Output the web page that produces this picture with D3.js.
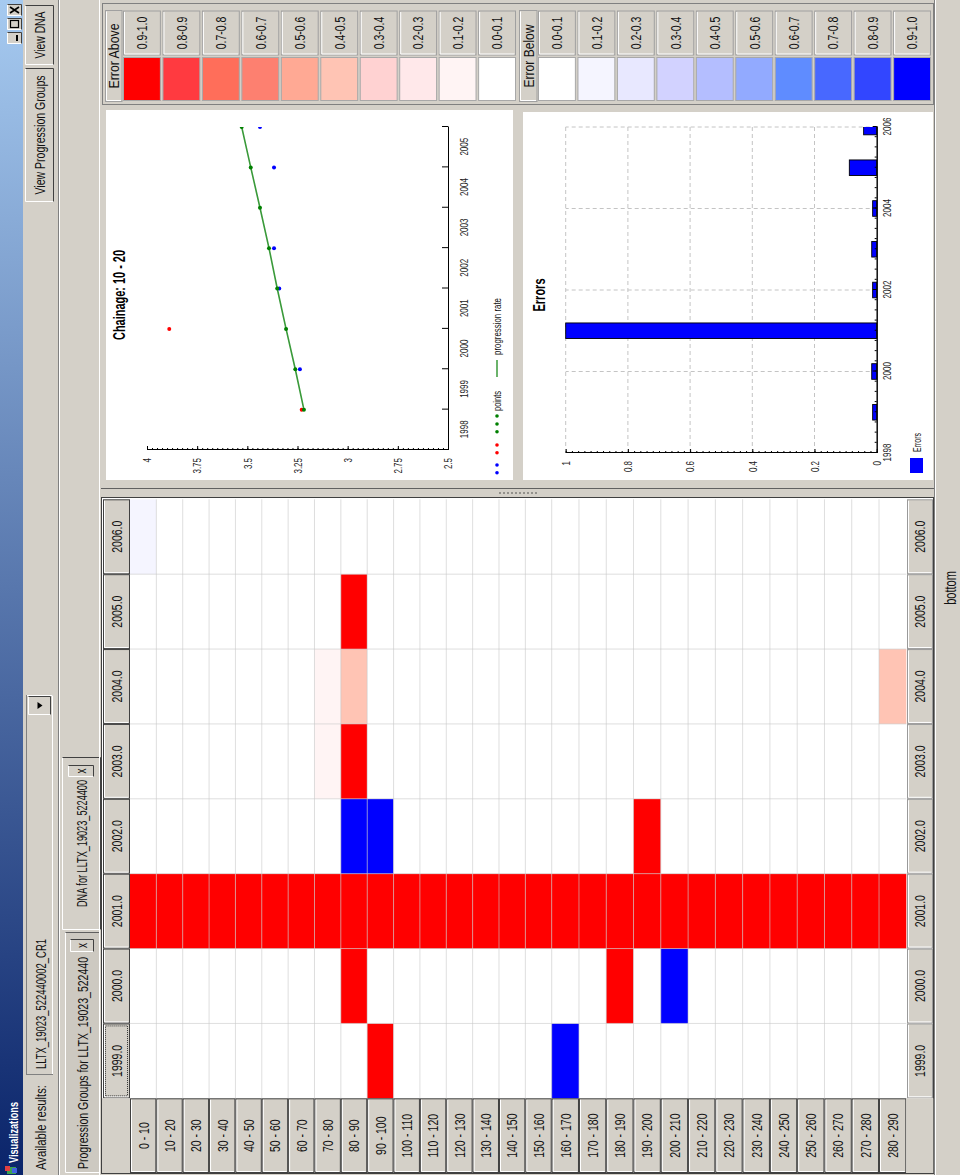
<!DOCTYPE html>
<html>
<head>
<meta charset="utf-8">
<script src="https://cdn.jsdelivr.net/npm/d3@7"></script>
<style>
  html, body { margin: 0; padding: 0; background: #d4d0c8; }
  svg { display: block; font-family: "Liberation Sans", Arial, sans-serif; }
</style>
</head>
<body>
<svg id="screen" width="960" height="1175"></svg>
<script>
// the screenshot is a Swing window turned a quarter turn, so everything is
// drawn in the window's own frame and the frame is rotated at the end
const FRAME_W = 1175;
const FRAME_H = 960;
const STRETCH = 1.45;   // the capture is stretched vertically, text too
const GRAY = '#d4d0c8';
const FONT = 'Liberation Sans, Arial, sans-serif';

// ---- DNA grid ----
const years = [1999, 2000, 2001, 2002, 2003, 2004, 2005, 2006];
const chainages = ['0 - 10', '10 - 20', '20 - 30', '30 - 40', '40 - 50', '50 - 60', '60 - 70',
  '70 - 80', '80 - 90', '90 - 100', '100 - 110', '110 - 120', '120 - 130', '130 - 140',
  '140 - 150', '150 - 160', '160 - 170', '170 - 180', '180 - 190', '190 - 200', '200 - 210',
  '210 - 220', '220 - 230', '230 - 240', '240 - 250', '250 - 260', '260 - 270', '270 - 280',
  '280 - 290'];
// one row per chainage, columns 1999..2006; >0 error above, <0 error below
const errorGrid = [
  [0, 0, 1, 0, 0, 0, 0, -0.15],
  [0, 0, 1, 0, 0, 0, 0, 0],
  [0, 0, 1, 0, 0, 0, 0, 0],
  [0, 0, 1, 0, 0, 0, 0, 0],
  [0, 0, 1, 0, 0, 0, 0, 0],
  [0, 0, 1, 0, 0, 0, 0, 0],
  [0, 0, 1, 0, 0, 0, 0, 0],
  [0, 0, 1, 0, 0.15, 0.15, 0, 0],
  [0, 1, 1, -1, 1, 0.45, 1, 0],
  [1, 0, 1, -1, 0, 0, 0, 0],
  [0, 0, 1, 0, 0, 0, 0, 0],
  [0, 0, 1, 0, 0, 0, 0, 0],
  [0, 0, 1, 0, 0, 0, 0, 0],
  [0, 0, 1, 0, 0, 0, 0, 0],
  [0, 0, 1, 0, 0, 0, 0, 0],
  [0, 0, 1, 0, 0, 0, 0, 0],
  [-1, 0, 1, 0, 0, 0, 0, 0],
  [0, 0, 1, 0, 0, 0, 0, 0],
  [0, 1, 1, 0, 0, 0, 0, 0],
  [0, 0, 1, 1, 0, 0, 0, 0],
  [0, -1, 1, 0, 0, 0, 0, 0],
  [0, 0, 1, 0, 0, 0, 0, 0],
  [0, 0, 1, 0, 0, 0, 0, 0],
  [0, 0, 1, 0, 0, 0, 0, 0],
  [0, 0, 1, 0, 0, 0, 0, 0],
  [0, 0, 1, 0, 0, 0, 0, 0],
  [0, 0, 1, 0, 0, 0, 0, 0],
  [0, 0, 1, 0, 0, 0, 0, 0],
  [0, 0, 1, 0, 0, 0.45, 0, 0]
];

// ---- colour key ----
const aboveBins = ['0.9-1.0', '0.8-0.9', '0.7-0.8', '0.6-0.7', '0.5-0.6', '0.4-0.5', '0.3-0.4', '0.2-0.3', '0.1-0.2', '0.0-0.1'];
const aboveColors = ['#ff0000', '#ff3a40', '#ff6e5a', '#fd8070', '#ffa994', '#ffc4b4', '#ffd2d2', '#ffe8ea', '#fff4f4', '#ffffff'];
const belowBins = ['0.0-0.1', '0.1-0.2', '0.2-0.3', '0.3-0.4', '0.4-0.5', '0.5-0.6', '0.6-0.7', '0.7-0.8', '0.8-0.9', '0.9-1.0'];
const belowColors = ['#ffffff', '#f5f5ff', '#e8e8ff', '#d2d2ff', '#b4beff', '#92aaff', '#5f8cff', '#4868ff', '#3246ff', '#0000ff'];

// ---- progression chart ----
const chainageTitle = 'Chainage: 10 - 20';
const progressionRate = [3.218, 3.261, 3.307, 3.351, 3.392, 3.437, 3.483, 3.528];
const aboveYears = [1999, 2001];
const aboveValues = [3.229, 3.889];
const belowYears = [2000, 2002, 2003, 2005, 2006];
const belowValues = [3.238, 3.341, 3.367, 3.367, 3.437];
const rateTicks = [2.5, 2.75, 3, 3.25, 3.5, 3.75, 4];
const lineYearLabels = [1998, 1999, 2000, 2001, 2002, 2003, 2004, 2005];

// ---- errors chart ----
const errorRates = [0.013, 0.016, 1.0, 0.013, 0.016, 0.013, 0.088, 0.042];
const errorTicks = [0, 0.2, 0.4, 0.6, 0.8, 1];
const barYearTicks = [1998, 2000, 2002, 2004, 2006];

const svg = d3.select('#screen');
const defs = svg.append('defs');
const frame = svg.append('g')
  .attr('transform', `translate(0,${FRAME_W}) rotate(-90)`)
  .attr('font-family', FONT);

function label(parent, x, y, str, o = {}) {
  const t = parent.append('text')
    .attr('transform', `translate(${x},${y}) scale(1,${STRETCH})`)
    .attr('font-size', o.size || 10.5)
    .attr('font-weight', o.weight || 'normal')
    .attr('text-anchor', o.anchor || 'start')
    .attr('fill', o.fill || '#111')
    .text(str);
  if (o.mid) t.attr('dy', '0.35em');
  if (o.len) t.attr('textLength', o.len).attr('lengthAdjust', 'spacingAndGlyphs');
  return t;
}

function stretch(sel) {
  sel.each(function () {
    const t = d3.select(this);
    const x = +t.attr('x') || 0;
    const y = +t.attr('y') || 0;
    t.attr('x', null).attr('y', null)
      .attr('transform', `translate(${x},${y}) scale(1,${STRETCH})`);
  });
}

function bevel(parent, x, y, w, h, fill = GRAY, dark = '#404040') {
  const g = parent.append('g');
  g.append('rect').attr('x', x).attr('y', y).attr('width', w).attr('height', h).attr('fill', fill);
  g.append('path').attr('d', `M${x + 0.5},${y + h - 0.5}V${y + 0.5}H${x + w - 0.5}`)
    .attr('fill', 'none').attr('stroke', '#fff');
  g.append('path').attr('d', `M${x + 0.5},${y + h - 0.5}H${x + w - 0.5}V${y + 0.5}`)
    .attr('fill', 'none').attr('stroke', dark);
  return g;
}

function headerCell(parent, x, y, w, h, edge) {
  parent.append('rect').attr('x', x + 0.5).attr('y', y + 0.5)
    .attr('width', w - 1).attr('height', h - 1)
    .attr('fill', GRAY).attr('stroke', edge);
  parent.append('path').attr('d', `M${x + 1.5},${y + h - 1.5}V${y + 1.5}H${x + w - 1.5}`)
    .attr('fill', 'none').attr('stroke', '#fff');
}

function styleAxis(g, size) {
  g.attr('font-family', FONT);
  g.select('.domain').attr('stroke', '#000');
  g.selectAll('.tick line').attr('stroke', '#000');
  g.selectAll('text').attr('font-size', size).attr('fill', '#222');
  stretch(g.selectAll('text'));
}

frame.append('rect').attr('width', FRAME_W).attr('height', FRAME_H).attr('fill', GRAY);

// ---------- title bar ----------
const grad = defs.append('linearGradient').attr('id', 'titleGrad')
  .attr('x1', 0).attr('x2', 1).attr('y1', 0).attr('y2', 0);
grad.append('stop').attr('offset', 0).attr('stop-color', '#0a246a');
grad.append('stop').attr('offset', 1).attr('stop-color', '#a6caf0');
frame.append('rect').attr('width', FRAME_W).attr('height', 23).attr('fill', 'url(#titleGrad)');
const titleBar = frame.append('g');
titleBar.append('rect').attr('x', 1).attr('y', 7).attr('width', 7).attr('height', 9).attr('fill', '#3aa050');
titleBar.append('rect').attr('x', 4).attr('y', 5).attr('width', 5).attr('height', 5).attr('fill', '#e04040');
titleBar.append('rect').attr('x', 2).attr('y', 12).attr('width', 5).attr('height', 5).attr('fill', '#4060e0');
label(titleBar, 12, 17.5, 'Visualizations', { size: 9, weight: 'bold', fill: '#fff', len: 61 });

[[1131, 'min'], [1145, 'max'], [1159, 'close']].forEach(([x, kind]) => {
  bevel(titleBar, x, 7, 12, 15);
  if (kind === 'min') titleBar.append('rect').attr('x', x + 3).attr('y', 16).attr('width', 6).attr('height', 2).attr('fill', '#000');
  if (kind === 'max') titleBar.append('rect').attr('x', x + 2.5).attr('y', 10.5).attr('width', 7).attr('height', 8)
    .attr('fill', 'none').attr('stroke', '#000').attr('stroke-width', 1.2);
  if (kind === 'close') titleBar.append('path').attr('d', `M${x + 3},${10}L${x + 9},${19}M${x + 9},${10}L${x + 3},${19}`)
    .attr('stroke', '#000').attr('stroke-width', 1.6);
});

// ---------- tool row ----------
const tools = frame.append('g');
label(tools, 5, 46, 'Available results:', { len: 85 });
tools.append('rect').attr('x', 100.5).attr('y', 26.5).attr('width', 379).attr('height', 26)
  .attr('fill', GRAY).attr('stroke', '#808080');
tools.append('path').attr('d', 'M101,52.5H479.5V27').attr('fill', 'none').attr('stroke', '#fff');
label(tools, 106, 46, 'LLTX_19023_522440002_CR1', { len: 130 });
bevel(tools, 460, 28, 19, 23);
tools.append('path').attr('d', 'M466,37.5h7l-3.5,5z').attr('fill', '#000');

bevel(tools, 973, 25, 134, 29);
label(tools, 1040, 39.5, 'View Progression Groups', { anchor: 'middle', mid: true, len: 119 });
bevel(tools, 1110, 25, 60, 29);
label(tools, 1140, 39.5, 'View DNA', { anchor: 'middle', mid: true, len: 47 });

tools.append('line').attr('x1', 0).attr('x2', FRAME_W).attr('y1', 58.5).attr('y2', 58.5).attr('stroke', '#808080');
tools.append('line').attr('x1', 0).attr('x2', FRAME_W).attr('y1', 59.5).attr('y2', 59.5).attr('stroke', '#fff');

// ---------- tabs ----------
const tabs = frame.append('g');
bevel(tabs, 2, 65, 241, 35, '#cdc9c1', '#606060');
label(tabs, 6, 88, 'Progression Groups for LLTX_19023_522440', { len: 212 });
bevel(tabs, 223, 70, 13, 24, GRAY, '#404040');
label(tabs, 229.5, 82, 'x', { anchor: 'middle', mid: true, size: 10 });

bevel(tabs, 245, 62, 173, 39, GRAY, '#404040');
label(tabs, 268, 87, 'DNA for LLTX_19023_5224400', { len: 127 });
bevel(tabs, 398, 68, 12, 26, GRAY, '#404040');
label(tabs, 404, 81, 'x', { anchor: 'middle', mid: true, size: 10 });

frame.append('line').attr('x1', 0).attr('x2', FRAME_W).attr('y1', 99.5).attr('y2', 99.5).attr('stroke', '#fff');
frame.append('line').attr('x1', 0).attr('x2', FRAME_W).attr('y1', 934.5).attr('y2', 934.5).attr('stroke', '#808080');
frame.append('line').attr('x1', 0).attr('x2', FRAME_W).attr('y1', 935.5).attr('y2', 935.5).attr('stroke', '#fff');

// ---------- DNA grid ----------
const hm = frame.append('g');
hm.append('rect').attr('x', 1.5).attr('y', 101.5).attr('width', 676).attr('height', 832)
  .attr('fill', '#fff').attr('stroke', '#404040');

const colX = d3.scaleBand().domain(years).range([76.7, 675.7]);
// row edges; the capture is not evenly scaled, hence the middle stop
const rowY = d3.scaleLinear().domain([0, 16, chainages.length]).range([130, 551.7, 906.3]);
const aboveScale = d3.scaleQuantize().domain([0, 1]).range(aboveColors.slice().reverse());
const belowScale = d3.scaleQuantize().domain([0, 1]).range(belowColors);
const cellColor = v => v > 0 ? aboveScale(v) : v < 0 ? belowScale(-v) : '#fff';

const cells = chainages.flatMap((c, i) => years.map((yr, j) => ({ row: i, year: yr, v: errorGrid[i][j] })));
hm.selectAll('rect.cell')
  .data(cells)
  .join('rect')
  .attr('class', 'cell')
  .attr('x', d => colX(d.year))
  .attr('y', d => rowY(d.row))
  .attr('width', colX.bandwidth())
  .attr('height', d => rowY(d.row + 1) - rowY(d.row))
  .attr('fill', d => cellColor(d.v));

hm.selectAll('line.hgrid')
  .data(d3.range(1, chainages.length))
  .join('line')
  .attr('class', 'hgrid')
  .attr('x1', colX.range()[0]).attr('x2', colX.range()[1])
  .attr('y1', d => rowY(d)).attr('y2', d => rowY(d))
  .attr('stroke', 'rgba(200,200,200,0.6)');
hm.selectAll('line.vgrid')
  .data(years.slice(1))
  .join('line')
  .attr('class', 'vgrid')
  .attr('x1', d => colX(d)).attr('x2', d => colX(d))
  .attr('y1', rowY(0)).attr('y2', rowY(chainages.length))
  .attr('stroke', 'rgba(200,200,200,0.6)');

const yearLabel = d3.format('.1f');
years.forEach(yr => {
  headerCell(hm, colX(yr), 103, colX.bandwidth(), 27, '#404040');
  label(hm, colX(yr) + colX.bandwidth() / 2, 116.5, yearLabel(yr), { anchor: 'middle', mid: true });
  headerCell(hm, colX(yr), 907, colX.bandwidth(), 26, '#9a9a9a');
  label(hm, colX(yr) + colX.bandwidth() / 2, 920, yearLabel(yr), { anchor: 'middle', mid: true });
});
hm.append('rect').attr('x', colX(years[0]) + 2.5).attr('y', 105.5)
  .attr('width', colX.bandwidth() - 5).attr('height', 22)
  .attr('fill', 'none').attr('stroke', '#333').attr('stroke-dasharray', '1,1');
chainages.forEach((c, i) => {
  headerCell(hm, 2, rowY(i), 74.7, rowY(i + 1) - rowY(i), '#404040');
  label(hm, 39.3, (rowY(i) + rowY(i + 1)) / 2, c, { anchor: 'middle', mid: true });
});
hm.append('rect').attr('x', 2).attr('y', 102).attr('width', 74.7).attr('height', 28).attr('fill', GRAY);
hm.append('rect').attr('x', 2).attr('y', 906.3).attr('width', 74.7).attr('height', 27).attr('fill', GRAY);

// split pane divider
frame.append('line').attr('x1', 686.5).attr('x2', 686.5).attr('y1', 101).attr('y2', 934).attr('stroke', '#606060');
frame.selectAll('circle.grip')
  .data(d3.range(500, 538, 4))
  .join('circle')
  .attr('class', 'grip')
  .attr('cx', 682).attr('cy', d => d).attr('r', 0.8).attr('fill', '#404040');

// ---------- colour key ----------
const key = frame.append('g');
key.append('rect').attr('x', 1070.5).attr('y', 102.5).attr('width', 101).attr('height', 831)
  .attr('fill', GRAY).attr('stroke', '#808080');
headerCell(key, 1073, 105, 92, 17.5, '#a0a0a0');
label(key, 1119, 113.8, 'Error Above', { anchor: 'middle', mid: true, len: 65 });
headerCell(key, 1073, 519, 92, 18.5, '#a0a0a0');
label(key, 1119, 528.3, 'Error Below', { anchor: 'middle', mid: true, len: 63 });

function keyRows(bins, colors, y0, y1) {
  const band = d3.scaleBand().domain(bins).range([y0, y1]).paddingInner(0.04);
  bins.forEach((b, i) => {
    headerCell(key, 1119.5, band(b), 45, band.bandwidth(), '#a0a0a0');
    label(key, 1142, band(b) + band.bandwidth() / 2, b, { anchor: 'middle', mid: true });
    key.append('rect').attr('x', 1074.5).attr('y', band(b) + 0.5)
      .attr('width', 43).attr('height', band.bandwidth() - 1)
      .attr('fill', colors[i]).attr('stroke', '#a8a8a8');
  });
}
keyRows(aboveBins, aboveColors, 123, 516);
keyRows(belowBins, belowColors, 538, 931);

// ---------- progression chart ----------
const lc = frame.append('g');
lc.append('rect').attr('x', 695).attr('y', 106).attr('width', 370).attr('height', 407).attr('fill', '#fff');
label(lc, 880, 124.5, chainageTitle, { anchor: 'middle', weight: 'bold', size: 11, fill: '#000', len: 90 });

const xL = d3.scaleLinear().domain([1998, 2006]).range([725, 1048]);
const yL = d3.scaleLinear().domain([2.5, 4]).range([448, 147]);

defs.append('clipPath').attr('id', 'lineClip')
  .append('rect').attr('x', 725).attr('y', 140).attr('width', 323).attr('height', 308);

const xTickAxis = lc.append('g').attr('transform', 'translate(0,448)')
  .call(d3.axisBottom(xL).tickValues(years).tickSizeInner(-6).tickSizeOuter(0).tickFormat(''));
styleAxis(xTickAxis, 8);
const xLabelAxis = lc.append('g').attr('transform', 'translate(0,448)')
  .call(d3.axisBottom(xL).tickValues(lineYearLabels.map(y => y + 0.5)).tickSize(0).tickPadding(12)
    .tickFormat(d => d3.format('d')(d - 0.5)));
xLabelAxis.select('.domain').remove();
styleAxis(xLabelAxis, 8);

const yMinor = lc.append('g').attr('transform', 'translate(725,0)')
  .call(d3.axisLeft(yL).tickValues(d3.range(2.5, 4.001, 0.025)).tickSizeInner(-2).tickSizeOuter(0).tickFormat(''));
styleAxis(yMinor, 8);
const yMajor = lc.append('g').attr('transform', 'translate(725,0)')
  .call(d3.axisLeft(yL).tickValues(rateTicks).tickSizeInner(-4).tickSizeOuter(0).tickPadding(8).tickFormat(d => d));
styleAxis(yMajor, 8);

const plotL = lc.append('g').attr('clip-path', 'url(#lineClip)');
plotL.append('path')
  .datum(progressionRate)
  .attr('d', d3.line().x((d, i) => xL(years[i])).y(d => yL(d)))
  .attr('fill', 'none').attr('stroke', '#3a9a3a').attr('stroke-width', 1.6);
plotL.selectAll('circle.below')
  .data(belowYears)
  .join('circle')
  .attr('class', 'below')
  .attr('cx', d => xL(d)).attr('cy', (d, i) => yL(belowValues[i])).attr('r', 2).attr('fill', '#0000ff');
plotL.selectAll('circle.above')
  .data(aboveYears)
  .join('circle')
  .attr('class', 'above')
  .attr('cx', d => xL(d)).attr('cy', (d, i) => yL(aboveValues[i])).attr('r', 2).attr('fill', '#ff0000');
plotL.selectAll('circle.rate')
  .data(progressionRate)
  .join('circle')
  .attr('class', 'rate')
  .attr('cx', (d, i) => xL(years[i])).attr('cy', d => yL(d)).attr('r', 2).attr('fill', '#008000');

const lcLegend = lc.append('g');
[['#0000ff', 702.3], ['#0000ff', 710], ['#ff0000', 722.3], ['#ff0000', 730],
 ['#008000', 743.3], ['#008000', 751], ['#008000', 759]].forEach(([c, x]) => {
  lcLegend.append('circle').attr('cx', x).attr('cy', 497).attr('r', 1.8).attr('fill', c);
});
label(lcLegend, 764, 497, 'points', { mid: true, size: 7.5, len: 20 });
lcLegend.append('line').attr('x1', 798).attr('x2', 815).attr('y1', 497).attr('y2', 497)
  .attr('stroke', '#3a9a3a').attr('stroke-width', 1.5);
label(lcLegend, 820, 497, 'progression rate', { mid: true, size: 7.5, len: 57 });

// ---------- errors chart ----------
const bc = frame.append('g');
bc.append('rect').attr('x', 695).attr('y', 523).attr('width', 368).attr('height', 410).attr('fill', '#fff');
label(bc, 880, 545, 'Errors', { anchor: 'middle', weight: 'bold', size: 11, fill: '#000', len: 33 });

const xB = d3.scaleLinear().domain([1998, 2006]).range([722, 1048]);
const yB = d3.scaleLinear().domain([0, 1]).range([876.7, 565.7]);

defs.append('clipPath').attr('id', 'barClip')
  .append('rect').attr('x', 722).attr('y', 560).attr('width', 326).attr('height', 317);

bc.selectAll('line.hdash')
  .data(errorTicks.slice(1))
  .join('line')
  .attr('class', 'hdash')
  .attr('x1', xB(1998)).attr('x2', xB(2006))
  .attr('y1', d => yB(d)).attr('y2', d => yB(d))
  .attr('stroke', '#c4c4c4').attr('stroke-dasharray', '4,3');
bc.selectAll('line.vdash')
  .data(barYearTicks.slice(1))
  .join('line')
  .attr('class', 'vdash')
  .attr('x1', d => xB(d)).attr('x2', d => xB(d))
  .attr('y1', yB(0)).attr('y2', yB(1))
  .attr('stroke', '#c4c4c4').attr('stroke-dasharray', '4,3');

bc.append('g').attr('clip-path', 'url(#barClip)')
  .selectAll('rect.bar')
  .data(errorRates)
  .join('rect')
  .attr('class', 'bar')
  .attr('x', (d, i) => xB(years[i]) - 7.8)
  .attr('y', d => yB(d))
  .attr('width', 15.6)
  .attr('height', d => yB(0) - yB(d))
  .attr('fill', '#0000ff')
  .attr('stroke', '#000').attr('stroke-width', 0.9);

const bxMinor = bc.append('g').attr('transform', `translate(0,${yB(0)})`)
  .call(d3.axisBottom(xB).tickValues(d3.range(1998, 2006.001, 0.25)).tickSizeInner(-2).tickSizeOuter(0).tickFormat(''));
styleAxis(bxMinor, 8);
const bxMajor = bc.append('g').attr('transform', `translate(0,${yB(0)})`)
  .call(d3.axisBottom(xB).tickValues(barYearTicks).tickSizeInner(-4).tickSizeOuter(0).tickPadding(6).tickFormat(d3.format('d')));
styleAxis(bxMajor, 8);
const byMinor = bc.append('g').attr('transform', `translate(${xB(1998)},0)`)
  .call(d3.axisLeft(yB).tickValues(d3.range(0, 1.001, 0.02)).tickSizeInner(-2).tickSizeOuter(0).tickFormat(''));
styleAxis(byMinor, 8);
const byMajor = bc.append('g').attr('transform', `translate(${xB(1998)},0)`)
  .call(d3.axisLeft(yB).tickValues(errorTicks).tickSizeInner(-4).tickSizeOuter(0).tickPadding(8).tickFormat(d => d));
styleAxis(byMajor, 8);

bc.append('rect').attr('x', 702).attr('y', 910).attr('width', 15).attr('height', 13).attr('fill', '#0000ff');
label(bc, 723, 917, 'Errors', { mid: true, size: 7.5, len: 19 });

// ---------- status bar ----------
label(frame, 587, 956, 'bottom', { anchor: 'middle', size: 11 });
</script>
</body>
</html>
